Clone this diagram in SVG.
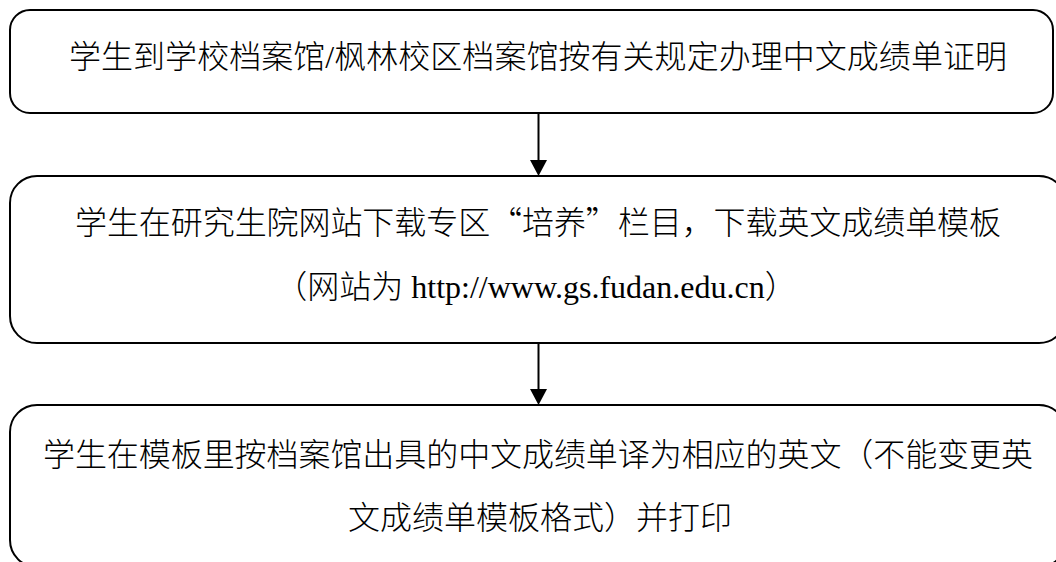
<svg xmlns="http://www.w3.org/2000/svg" width="1056" height="562" viewBox="0 0 1056 562">
<style>
.box{fill:#fff;stroke:#000;stroke-width:2}
.t{font-family:"Liberation Serif","Noto Sans CJK SC",serif;font-size:32px;font-weight:300;fill:#000;text-anchor:middle}
.c{font-family:"Noto Sans CJK SC",sans-serif}
.conn{stroke:#000;stroke-width:2;fill:none}
.head{fill:#000}
</style>
<rect width="1056" height="562" fill="#fff"/>
<g id="node1">
<rect class="box" x="10" y="10" width="1043" height="103" rx="20" ry="20"/>
<text class="t" x="538" y="68" textLength="938" lengthAdjust="spacing">学生到学校档案馆/枫林校区档案馆按有关规定办理中文成绩单证明</text>
</g>
<g id="node2">
<rect class="box" x="10" y="176" width="1056" height="167" rx="27" ry="27"/>
<text class="t" x="538" y="234" textLength="926" lengthAdjust="spacing">学生在研究生院网站下载专区<tspan class="c">“</tspan>培养<tspan class="c">”</tspan>栏目，下载英文成绩单模板</text>
<text class="t" x="536" y="298">（网站为 http://www.gs.fudan.edu.cn）</text>
</g>
<g id="node3">
<rect class="box" x="10" y="405" width="1056" height="162" rx="27" ry="27"/>
<text class="t" x="538" y="466" textLength="990" lengthAdjust="spacing">学生在模板里按档案馆出具的中文成绩单译为相应的英文（不能变更英</text>
<text class="t" x="540" y="529" textLength="384" lengthAdjust="spacing">文成绩单模板格式）并打印</text>
</g>
<g id="connectors">
<line class="conn" x1="538.5" y1="113" x2="538.5" y2="161"/>
<path class="head" d="M530,160 L547,160 L538.5,176 Z"/>
<line class="conn" x1="538.5" y1="343" x2="538.5" y2="390"/>
<path class="head" d="M530,389 L547,389 L538.5,405 Z"/>
</g>
</svg>
